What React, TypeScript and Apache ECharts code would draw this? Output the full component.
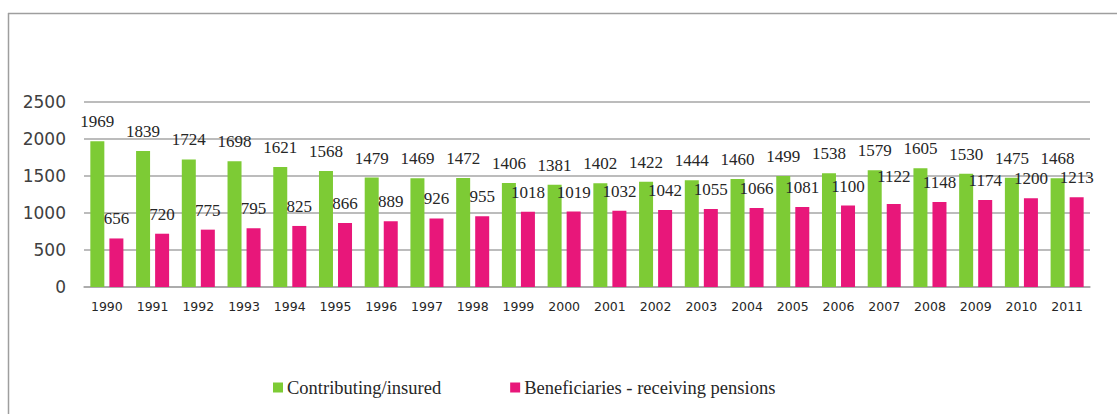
import React, { useEffect, useRef } from "react";
import * as echarts from "echarts";

const years = ["1990","1991","1992","1993","1994","1995","1996","1997","1998","1999","2000","2001","2002","2003","2004","2005","2006","2007","2008","2009","2010","2011"];
const contributing = [1969,1839,1724,1698,1621,1568,1479,1469,1472,1406,1381,1402,1422,1444,1460,1499,1538,1579,1605,1530,1475,1468];
const beneficiaries = [656,720,775,795,825,866,889,926,955,1018,1019,1032,1042,1055,1066,1081,1100,1122,1148,1174,1200,1213];
const yTicks = { min: 0, max: 2500, interval: 500 };

export default function App() {
  const ref = useRef<HTMLDivElement>(null);
  useEffect(() => {
    if (!ref.current) return;
    const chart = echarts.init(ref.current, null, { renderer: "svg" });
    const labelStyle = {
      show: true,
      position: "top" as const,
      distance: 11,
      fontFamily: "Liberation Serif",
      fontSize: 17,
      color: "#262626",
    };
    chart.setOption({
      animation: false,
      backgroundColor: "#ffffff",
      grid: { left: 84, right: 27, top: 102, bottom: 127, containLabel: false },
      legend: {
        left: 273,
        top: 378,
        padding: 0,
        itemWidth: 10,
        itemHeight: 10,
        itemGap: 69,
        icon: "rect",
        textStyle: { fontFamily: "Liberation Serif", fontSize: 18.5, color: "#262626", padding: [0, 0, 0, -1] },
        data: ["Contributing/insured", "Beneficiaries - receiving pensions"],
      },
      xAxis: {
        type: "category",
        data: years,
        axisLine: { show: true, lineStyle: { color: "#a6a6a6", width: 1.5 } },
        axisTick: { show: false },
        axisLabel: { fontFamily: "DejaVu Sans", fontSize: 12.5, color: "#262626", margin: 13, interval: 0 },
      },
      yAxis: {
        type: "value",
        min: yTicks.min,
        max: yTicks.max,
        interval: yTicks.interval,
        axisLine: { show: false },
        axisTick: { show: false },
        axisLabel: { fontFamily: "DejaVu Sans", fontSize: 17, color: "#404040", margin: 18, formatter: (v: number) => String(v) },
        splitLine: { lineStyle: { color: "#a6a6a6", width: 1.5 } },
      },
      series: [
        {
          name: "Contributing/insured",
          type: "bar",
          data: contributing,
          barWidth: 14,
          barGap: "36%",
          itemStyle: { color: "#7dcb35" },
          label: labelStyle,
        },
        {
          name: "Beneficiaries - receiving pensions",
          type: "bar",
          data: beneficiaries.map((v, i) => (i === 17 ? { value: v, label: { distance: 19 } } : v)),
          barWidth: 14,
          itemStyle: { color: "#e8177a" },
          label: labelStyle,
        },
      ],
      graphic: [
        { type: "line", shape: { x1: 8.5, y1: 13, x2: 8.5, y2: 414 }, style: { stroke: "#9e9e9e", lineWidth: 1.5 }, silent: true },
        { type: "line", shape: { x1: 8, y1: 13.5, x2: 1117, y2: 13.5 }, style: { stroke: "#9e9e9e", lineWidth: 1.5 }, silent: true },
      ],
    });
    return () => chart.dispose();
  }, []);
  return <div ref={ref} style={{ position: "absolute", left: 0, top: 0, width: 1117, height: 414 }} />;
}
